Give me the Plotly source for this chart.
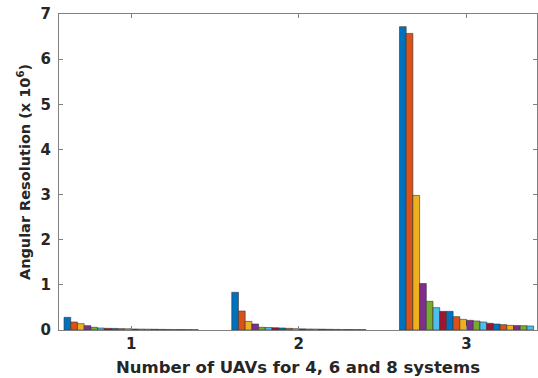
import plotly.graph_objects as go

categories = [1, 2, 3]
# values per bar index (20 bars per group), in units of 10^6
group1 = [0.28, 0.177, 0.14, 0.096, 0.06, 0.044, 0.037, 0.035, 0.03, 0.028,
          0.022, 0.02, 0.018, 0.016, 0.014, 0.012, 0.011, 0.01, 0.009, 0.008]
group2 = [0.835, 0.42, 0.19, 0.133, 0.06, 0.055, 0.05, 0.045, 0.037, 0.03,
          0.025, 0.022, 0.02, 0.018, 0.015, 0.013, 0.012, 0.011, 0.01, 0.01]
group3 = [6.72, 6.57, 2.98, 1.03, 0.635, 0.495, 0.413, 0.413, 0.295, 0.236,
          0.214, 0.2, 0.177, 0.148, 0.133, 0.118, 0.103, 0.098, 0.096, 0.089]
colors = ["#0072BD", "#D95319", "#EDB120", "#7E2F8E", "#77AC30", "#4DBEEE", "#A2142F"]
y_ticks = [0, 1, 2, 3, 4, 5, 6, 7]

FONT = "DejaVu Sans, Liberation Sans, Arial"

fig = go.Figure()
for i in range(len(group1)):
    fig.add_trace(go.Bar(
        x=categories,
        y=[group1[i], group2[i], group3[i]],
        marker=dict(color=colors[i % len(colors)], line=dict(color="#333333", width=0.6)),
        showlegend=False,
    ))

axis_common = dict(
    showline=True, linecolor="#808080", linewidth=1, mirror="ticks",
    ticks="inside", ticklen=4, tickcolor="#808080", showgrid=False, zeroline=False,
    tickfont=dict(family=FONT, size=15, color="#262626"),
)

fig.update_layout(
    width=538, height=378,
    margin=dict(l=59, r=1, t=14, b=48),
    paper_bgcolor="white", plot_bgcolor="white",
    barmode="group", bargap=0.2, bargroupgap=0,
    xaxis=dict(
        range=[0.57, 3.42], tickvals=categories,
        ticktext=[f"<b>{c}</b>" for c in categories],
        title=dict(text="<b>Number of UAVs for 4, 6 and 8 systems</b>", standoff=9,
                   font=dict(family=FONT, size=16.5, color="#262626")),
        **axis_common,
    ),
    yaxis=dict(
        range=[0, 7], tickvals=y_ticks, ticktext=[f"<b>{t}</b>" for t in y_ticks],
        ticklabelstandoff=4,
        title=dict(text="<b>Angular Resolution (x 10<sup>6</sup>)</b>", standoff=6,
                   font=dict(family=FONT, size=14.5, color="#262626")),
        **axis_common,
    ),
)

fig.write_html("out.html")
